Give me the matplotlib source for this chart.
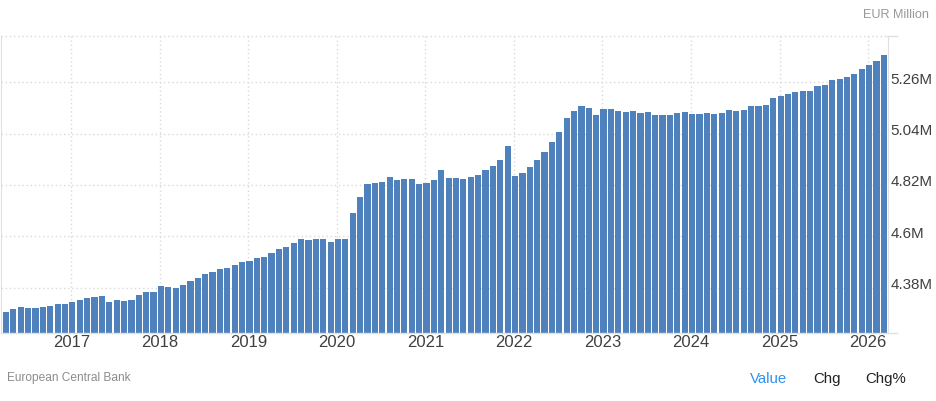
import matplotlib
matplotlib.use('Agg')
import matplotlib.pyplot as plt
from matplotlib.lines import Line2D
import numpy as np
import pandas as pd

plt.rcParams['font.family'] = ['Liberation Sans', 'DejaVu Sans']

W, H = 937, 401

# monthly values, EUR million shown in M, Apr 2016 to Mar 2026
vals_2016_2019 = [4.274, 4.287, 4.296, 4.291, 4.291, 4.296, 4.300, 4.308, 4.308, 4.317,
                  4.326, 4.334, 4.338, 4.343, 4.317, 4.326, 4.321, 4.326, 4.347, 4.360,
                  4.360, 4.386, 4.381, 4.377, 4.390, 4.407, 4.420, 4.437, 4.446, 4.459,
                  4.463, 4.476, 4.489, 4.493, 4.506, 4.510, 4.527, 4.545, 4.553, 4.570,
                  4.588, 4.583, 4.588, 4.590, 4.577, 4.586, 4.590]
vals_2020_2023 = [4.701, 4.770, 4.826, 4.830, 4.834, 4.856, 4.843, 4.847, 4.847, 4.826,
                  4.830, 4.839, 4.882, 4.851, 4.851, 4.847, 4.856, 4.864, 4.882, 4.903,
                  4.929, 4.989, 4.860, 4.873, 4.899, 4.929, 4.963, 5.002, 5.045, 5.109,
                  5.139, 5.157, 5.152, 5.122, 5.144, 5.144, 5.135]
vals_2023_2026 = [5.133, 5.137, 5.128, 5.133, 5.120, 5.120, 5.120, 5.128, 5.133, 5.124,
                  5.124, 5.128, 5.124, 5.128, 5.141, 5.137, 5.141, 5.158, 5.158, 5.163,
                  5.193, 5.201, 5.210, 5.218, 5.223, 5.223, 5.244, 5.249, 5.270, 5.274,
                  5.283, 5.296, 5.317, 5.334, 5.352, 5.377]
values = vals_2016_2019 + vals_2020_2023 + vals_2023_2026

months = pd.date_range('2016-04-01', periods=len(values), freq='MS')
years = [2017, 2018, 2019, 2020, 2021, 2022, 2023, 2024, 2025, 2026]
y_ticks = [4.38, 4.6, 4.82, 5.04, 5.26]
y_labels = ['4.38M', '4.6M', '4.82M', '5.04M', '5.26M']

blue = '#4f81bd'
line_col = '#e0e0e0'
grid_col = '#d9d9d9'

fig = plt.figure(figsize=(W / 100, H / 100), dpi=100)
# axes box in pixels: x 1.5 to 887.5, y 36.3 to 332.5
ax = fig.add_axes([1.5 / W, 1 - 332.5 / H, 886 / W, 296.2 / H])

x = np.arange(len(values))
ax.bar(x, values, width=0.84, color=blue, zorder=3)

pitch = 7.377
ax.set_xlim(-(6 - 1.5) / pitch, 119 + (887.5 - 883.9) / pitch)
ax.set_ylim(4.187, 5.4575)

year_pos = [list(months).index(pd.Timestamp(year=y, month=1, day=1)) - 0.15 for y in years]
ax.set_xticks(year_pos)
ax.set_xticklabels([str(y) for y in years], fontsize=12, color='#404040')
ax.set_yticks(y_ticks)
ax.set_yticklabels(y_labels, fontsize=10.9, color='#404040')
ax.yaxis.tick_right()
ax.tick_params(axis='x', length=0, pad=1.6)
ax.tick_params(axis='y', length=0, pad=2.4)
for lab in ax.get_yticklabels():
    lab.set_verticalalignment('center')
    lab.set_transform(lab.get_transform() + matplotlib.transforms.ScaledTranslation(0, 2.5 / 100, fig.dpi_scale_trans))

ax.grid(True, color=grid_col, linestyle=(0, (1, 2)), linewidth=1, zorder=0)
ax.set_axisbelow(True)

ax.spines['top'].set_visible(False)
ax.spines['bottom'].set_visible(False)
ax.spines['left'].set_color(line_col)
ax.spines['right'].set_color(line_col)


def px_line(x0, x1, y, **kw):
    fig.add_artist(Line2D([x0 / W, x1 / W], [1 - y / H, 1 - y / H], **kw))


# top line and baseline run a bit past the plot
px_line(1.5, 887.5, 36.3, color=grid_col, linestyle=(0, (1, 2)), linewidth=1)
px_line(887.5, 897, 36.3, color=line_col, linewidth=1)
px_line(1.5, 897, 332.5, color=line_col, linewidth=1, zorder=5)


def px_text(px, py, s, **kw):
    fig.text(px / W, 1 - py / H, s, va='center', **kw)


px_text(929, 15.5, 'EUR Million', ha='right', fontsize=9.1, color='#999999')
px_text(7, 378.5, 'European Central Bank', ha='left', fontsize=8.6, color='#8c8c8c')
px_text(750, 379, 'Value', ha='left', fontsize=10.8, color='#2f93f0')
px_text(813, 379, 'Chg', ha='left', fontsize=10.8, color='#222222')
px_text(865, 379, 'Chg%', ha='left', fontsize=10.8, color='#222222')

fig.savefig('out.png', dpi=100)
